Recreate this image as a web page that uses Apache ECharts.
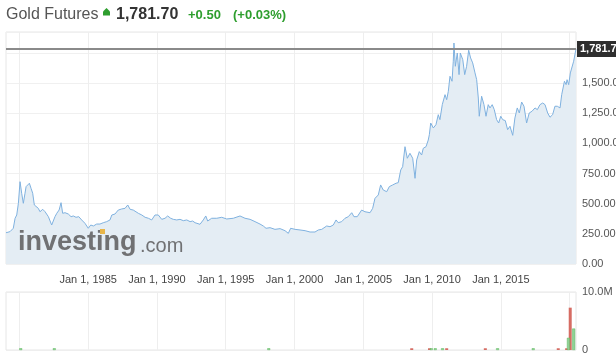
<!DOCTYPE html>
<html>
<head>
<meta charset="utf-8">
<script src="https://cdn.jsdelivr.net/npm/echarts@6/dist/echarts.min.js"></script>
<style>html,body{margin:0;padding:0;background:#fff}#c{width:616px;height:361px}</style>
</head>
<body>
<div id="c"></div>
<script>
// ---- data (decimal years, prices) ----
const years = [1979.03,1979.32,1979.56,1979.69,1979.81,1979.93,1980.05,1980.17,1980.29,1980.41,1980.49,1980.58,1980.73,1980.85,1980.97,1981.09,1981.21,1981.38,1981.50,1981.70,1981.87,1982.11,1982.35,1982.47,1982.59,1982.72,1982.89,1983.03,1983.15,1983.32,1983.56,1983.76,1983.92,1984.12,1984.32,1984.53,1984.77,1985.01,1985.19,1985.38,1985.62,1985.86,1986.10,1986.35,1986.59,1986.72,1986.95,1987.19,1987.44,1987.68,1987.88,1988.05,1988.28,1988.41,1988.65,1988.90,1989.14,1989.38,1989.62,1989.86,1990.10,1990.35,1990.59,1990.78,1991.00,1991.19,1991.44,1991.68,1991.92,1992.17,1992.41,1992.60,1992.77,1992.89,1993.13,1993.37,1993.55,1993.69,1993.98,1994.35,1994.71,1995.07,1995.55,1996.04,1996.40,1996.77,1997.13,1997.49,1997.73,1997.93,1998.22,1998.58,1998.95,1999.31,1999.55,1999.72,2000.04,2000.40,2000.77,2001.13,2001.49,2001.73,2001.98,2002.34,2002.58,2002.82,2003.02,2003.18,2003.43,2003.67,2003.91,2004.16,2004.32,2004.56,2004.88,2005.12,2005.49,2005.68,2005.85,2006.09,2006.26,2006.45,2006.70,2006.89,2007.14,2007.38,2007.54,2007.72,2007.86,2008.03,2008.20,2008.39,2008.59,2008.76,2008.88,2009.07,2009.24,2009.36,2009.56,2009.72,2009.80,2009.90,2010.09,2010.28,2010.45,2010.57,2010.74,2010.94,2011.06,2011.18,2011.30,2011.45,2011.54,2011.59,2011.69,2011.83,2011.96,2012.05,2012.23,2012.37,2012.51,2012.66,2012.80,2012.95,2013.12,2013.24,2013.36,2013.43,2013.60,2013.77,2013.92,2014.08,2014.21,2014.37,2014.52,2014.69,2014.84,2014.99,2015.13,2015.32,2015.49,2015.66,2015.86,2016.02,2016.19,2016.34,2016.51,2016.68,2016.87,2017.06,2017.26,2017.48,2017.65,2017.84,2018.04,2018.21,2018.40,2018.57,2018.76,2018.93,2019.10,2019.30,2019.42,2019.62,2019.74,2019.81,2019.93,2020.05,2020.17,2020.29,2020.46];
const prices = [259,268,296,379,406,503,682,586,503,586,641,627,669,627,586,489,503,461,433,453,433,392,323,323,392,420,447,508,420,425,414,392,398,387,392,365,337,296,323,315,331,331,342,351,365,406,414,447,456,461,489,453,447,456,420,406,387,379,365,406,406,370,379,398,379,370,365,370,359,365,351,356,342,337,329,365,398,356,379,379,387,373,379,398,379,370,351,331,315,296,301,287,293,276,254,296,287,282,276,265,265,282,287,315,309,323,365,342,351,379,392,425,392,392,447,433,425,461,544,572,655,613,599,641,655,669,674,779,806,972,876,917,876,710,862,931,903,959,972,1027,1071,1168,1127,1154,1237,1196,1320,1403,1361,1431,1555,1514,1680,1831,1638,1748,1569,1748,1693,1569,1638,1771,1707,1666,1583,1527,1375,1224,1390,1320,1224,1320,1293,1320,1279,1196,1168,1224,1196,1188,1113,1141,1066,1210,1293,1251,1342,1307,1168,1251,1265,1293,1279,1320,1334,1320,1251,1216,1237,1307,1307,1293,1403,1514,1486,1527,1486,1583,1597,1680,1781.70];
const lastPrice = 1781.70;
const volUpYears = [1980.10,1982.54,1998.13,2009.94,2010.23,2010.76,2014.76,2017.35,2019.91,2020.29];
const volUp      = [0.3e6,0.3e6,0.3e6,0.3e6,0.3e6,0.3e6,0.3e6,0.3e6,2.1e6,3.7e6];
const volDownYears = [2008.52,2009.81,2011.06,2013.87,2019.17,2019.78,2020.04];
const volDown      = [0.3e6,0.3e6,0.3e6,0.3e6,0.3e6,0.3e6,7.3e6];
const gridYears  = [1980,1985,1990,1995,2000,2005,2010,2015,2020];
const labelYears = [1985,1990,1995,2000,2005,2010,2015];
const priceStep = 250;
const xMin = 1979.03, xMax = 2020.46, yMax = 1922;
const volMax = 10e6;

const FONT = 'Liberation Sans, Arial, sans-serif';
const chart = echarts.init(document.getElementById('c'), null, {renderer: 'canvas'});
const fmtPrice = v => v.toLocaleString('en-US', {minimumFractionDigits: 2, maximumFractionDigits: 2});
const pair = (xs, ys) => xs.map((x, i) => [x, ys[i]]);

chart.setOption({
  animation: false,
  grid: [
    {left: 6, right: 40, top: 32, height: 232, show: true, borderColor: '#e6e6e6', borderWidth: 1,
     outerBoundsMode: 'none', containLabel: false},
    {left: 6, right: 40, top: 292, height: 58, show: true, borderColor: '#e6e6e6', borderWidth: 1,
     outerBoundsMode: 'none', containLabel: false}
  ],
  xAxis: [
    {type: 'value', gridIndex: 0, min: xMin, max: xMax,
     axisLine: {show: false},
     axisTick: {show: false, customValues: gridYears},
     splitLine: {show: true, lineStyle: {color: '#eeeeee'}},
     axisLabel: {customValues: labelYears, margin: 10, color: '#444', fontSize: 11, fontFamily: FONT,
                 formatter: v => 'Jan 1, ' + Math.round(v)}},
    {type: 'value', gridIndex: 1, min: xMin, max: xMax,
     axisLine: {show: false},
     axisTick: {show: false, customValues: gridYears},
     splitLine: {show: true, lineStyle: {color: '#eeeeee'}},
     axisLabel: {show: false}}
  ],
  yAxis: [
    {type: 'value', gridIndex: 0, position: 'right', min: 0, max: yMax, interval: priceStep,
     axisLine: {show: false}, axisTick: {show: false},
     splitLine: {lineStyle: {color: '#f0f0f0'}},
     axisLabel: {margin: 6, color: '#555', fontSize: 11, fontFamily: FONT,
                 formatter: v => (v % priceStep === 0 && v <= 1500) ? fmtPrice(v) : ''}},
    {type: 'value', gridIndex: 1, position: 'right', min: 0, max: volMax, interval: volMax,
     axisLine: {show: false}, axisTick: {show: false},
     splitLine: {lineStyle: {color: '#eeeeee'}},
     axisLabel: {margin: 6, color: '#555', fontSize: 11, fontFamily: FONT,
                 formatter: v => v === 0 ? '0' : (v / 1e6).toFixed(1) + 'M'}}
  ],
  series: [
    {type: 'line', xAxisIndex: 0, yAxisIndex: 0, data: pair(years, prices),
     showSymbol: false, symbol: 'none',
     lineStyle: {color: '#7fb1df', width: 1},
     areaStyle: {color: '#e4edf4', opacity: 1},
     markLine: {silent: true, symbol: 'none',
       lineStyle: {color: '#8a8a8a', width: 2, type: 'solid'},
       label: {position: 'end', distance: 1, formatter: () => fmtPrice(lastPrice),
               color: '#fff', backgroundColor: '#2e2e2e', padding: [3, 3, 2, 3],
               fontSize: 11, fontWeight: 'bold', fontFamily: FONT},
       data: [{yAxis: lastPrice}]}},
    {type: 'bar', xAxisIndex: 1, yAxisIndex: 1, data: pair(volDownYears, volDown),
     barWidth: 3, barGap: '-100%', itemStyle: {color: '#d66c63'}},
    {type: 'bar', xAxisIndex: 1, yAxisIndex: 1, data: pair(volUpYears, volUp),
     barWidth: 3, barGap: '-100%', itemStyle: {color: '#8fd197', borderColor: '#5cb85c', borderWidth: 0.5}}
  ],
  graphic: [
    {type: 'text', x: 6, y: 15, z: 100, style: {text: 'Gold Futures', font: '16px ' + FONT, fill: '#555', verticalAlign: 'middle'}},
    {type: 'polygon', z: 100, shape: {points: [[106.5, 8], [110, 11.5], [110, 15.5], [103, 15.5], [103, 11.5]]}, style: {fill: '#2e9e2e'}},
    {type: 'text', x: 116, y: 15, z: 100, style: {text: fmtPrice(lastPrice), font: 'bold 16px ' + FONT, fill: '#333', verticalAlign: 'middle'}},
    {type: 'text', x: 188, y: 15, z: 100, style: {text: '+0.50', font: 'bold 13px ' + FONT, fill: '#2e9e2e', verticalAlign: 'middle'}},
    {type: 'text', x: 233, y: 15, z: 100, style: {text: '(+0.03%)', font: 'bold 13px ' + FONT, fill: '#2e9e2e', verticalAlign: 'middle'}},
    {type: 'text', x: 18, y: 243, z: 100, style: {text: 'investing', font: 'bold 27px ' + FONT, fill: '#707173', verticalAlign: 'middle'}},
    {type: 'rect', z: 101, shape: {x: 100, y: 229, width: 5, height: 5}, style: {fill: '#e8b64a'}},
    {type: 'text', x: 140, y: 246, z: 100, style: {text: '.com', font: '20px ' + FONT, fill: '#707173', verticalAlign: 'middle'}}
  ]
});
</script>
</body>
</html>
